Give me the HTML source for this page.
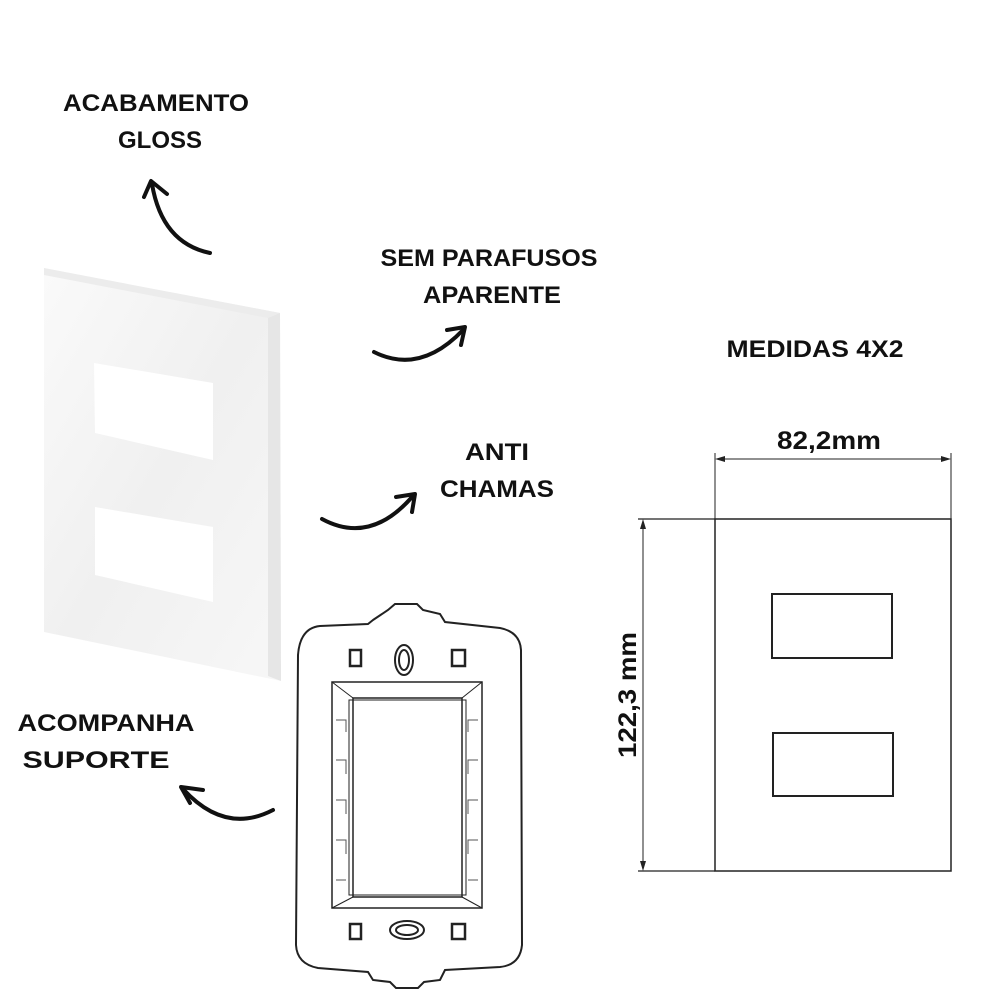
<!DOCTYPE html>
<html><head><meta charset="utf-8"><style>
html,body{margin:0;padding:0;background:#fff;}
svg{display:block;}
text{font-family:"Liberation Sans",sans-serif;font-weight:bold;fill:#111;}
</style></head><body>
<svg width="1000" height="1000" viewBox="0 0 1000 1000" xmlns="http://www.w3.org/2000/svg">
<defs>
<linearGradient id="pg" x1="0" y1="0" x2="1" y2="1">
<stop offset="0" stop-color="#fafafa"/><stop offset="0.5" stop-color="#f0f0f0"/><stop offset="1" stop-color="#f7f7f7"/>
</linearGradient>
</defs>
<!-- labels -->
<text x="156" y="111" font-size="24" text-anchor="middle" textLength="186" lengthAdjust="spacingAndGlyphs">ACABAMENTO</text>
<text x="160" y="148" font-size="24" text-anchor="middle" textLength="84" lengthAdjust="spacingAndGlyphs">GLOSS</text>
<text x="489" y="266" font-size="24" text-anchor="middle" textLength="217" lengthAdjust="spacingAndGlyphs">SEM PARAFUSOS</text>
<text x="492" y="303" font-size="24" text-anchor="middle" textLength="138" lengthAdjust="spacingAndGlyphs">APARENTE</text>
<text x="497" y="460" font-size="24" text-anchor="middle" textLength="64" lengthAdjust="spacingAndGlyphs">ANTI</text>
<text x="497" y="497" font-size="24" text-anchor="middle" textLength="114" lengthAdjust="spacingAndGlyphs">CHAMAS</text>
<text x="106" y="731" font-size="24" text-anchor="middle" textLength="177" lengthAdjust="spacingAndGlyphs">ACOMPANHA</text>
<text x="96" y="768" font-size="24" text-anchor="middle" textLength="147" lengthAdjust="spacingAndGlyphs">SUPORTE</text>
<text x="815" y="357" font-size="24" text-anchor="middle" textLength="177" lengthAdjust="spacingAndGlyphs">MEDIDAS 4X2</text>

<!-- arrows -->
<g fill="none" stroke="#111" stroke-width="4" stroke-linecap="round" stroke-linejoin="round">
<path d="M210 253 Q162 243 152 184"/>
<path d="M144 197 L151 181 L167 194"/>
<path d="M374 352 Q420 375 463 330"/>
<path d="M447 330 L465 327 L461 345"/>
<path d="M322 519 Q370 545 412 497"/>
<path d="M396 497 L415 494 L412 512"/>
<path d="M273 810 Q225 835 183 789"/>
<path d="M203 790 L181 787 L190 803"/>
</g>

<!-- plate -->
<polygon points="44,268 155,290 175,293 280,313 281,681 44,632" fill="url(#pg)"/>
<polygon points="44,268 280,313 268,318 44,275" fill="#ececec"/>
<polygon points="268,318 280,313 281,681 268,676" fill="#e6e6e6"/>
<polygon points="94,363 213,383 213,460 95,433" fill="#fff"/>
<polygon points="95,507 213,527 213,602 95,575" fill="#fff"/>

<!-- support -->
<g fill="none" stroke="#222" stroke-width="2">
<path d="M373 620 L388 610 L395 604 L417 604 L423 610 L440 614 L445 622 L500 628 Q520 632 521 650 L522 945 Q520 965 500 967 L445 970 L440 980 L424 982 L418 988 L396 988 L390 982 L373 980 L368 972 L318 968 Q297 964 296 945 L298 655 Q300 628 320 626 L368 624 Z"/>
<rect x="332" y="682" width="150" height="226" stroke-width="1.5"/>
<rect x="353" y="698" width="109" height="199" stroke-width="1.5"/>
<rect x="349" y="700" width="117" height="195" stroke-width="1"/>
<line x1="332" y1="682" x2="353" y2="698" stroke-width="1"/>
<line x1="482" y1="682" x2="462" y2="698" stroke-width="1"/>
<line x1="332" y1="908" x2="353" y2="897" stroke-width="1"/>
<line x1="482" y1="908" x2="462" y2="897" stroke-width="1"/>
<rect x="350" y="650" width="11" height="16" stroke-width="2.5"/>
<rect x="452" y="650" width="13" height="16" stroke-width="2.5"/>
<rect x="350" y="924" width="11" height="15" stroke-width="2.5"/>
<rect x="452" y="924" width="13" height="15" stroke-width="2.5"/>
<ellipse cx="404" cy="660" rx="9" ry="15"/>
<ellipse cx="404" cy="660" rx="5" ry="10"/>
<ellipse cx="407" cy="930" rx="17" ry="9"/>
<ellipse cx="407" cy="930" rx="11" ry="5"/>
</g>
<g stroke="#555" stroke-width="1" fill="none">
<path d="M336 720 h10 v12 M336 760 h10 v14 M336 800 h10 v14 M336 840 h10 v14 M336 880 h10"/>
<path d="M478 720 h-10 v12 M478 760 h-10 v14 M478 800 h-10 v14 M478 840 h-10 v14 M478 880 h-10"/>
</g>

<!-- dimension drawing -->
<g fill="none" stroke="#222">
<rect x="715" y="519" width="236" height="352" stroke-width="1.5"/>
<line x1="638" y1="519" x2="715" y2="519" stroke-width="1.2"/>
<line x1="638" y1="871" x2="715" y2="871" stroke-width="1.2"/>
<line x1="643" y1="521" x2="643" y2="869" stroke-width="1"/>
<line x1="715" y1="453" x2="715" y2="519" stroke-width="1"/>
<line x1="951" y1="453" x2="951" y2="519" stroke-width="1"/>
<line x1="717" y1="459" x2="949" y2="459" stroke-width="1"/>
<rect x="772" y="594" width="120" height="64" stroke-width="2"/>
<rect x="773" y="733" width="120" height="63" stroke-width="2"/>
</g>
<g fill="#222">
<path d="M715 459 l10 -3 v6 z"/><path d="M951 459 l-10 -3 v6 z"/>
<path d="M643 519 l-3 10 h6 z"/><path d="M643 871 l-3 -10 h6 z"/>
</g>
<text x="829" y="449" font-size="25" text-anchor="middle" textLength="104" lengthAdjust="spacingAndGlyphs">82,2mm</text>
<text transform="translate(636,695) rotate(-90)" font-size="25" text-anchor="middle" textLength="126" lengthAdjust="spacingAndGlyphs">122,3 mm</text>
</svg>
</body></html>
